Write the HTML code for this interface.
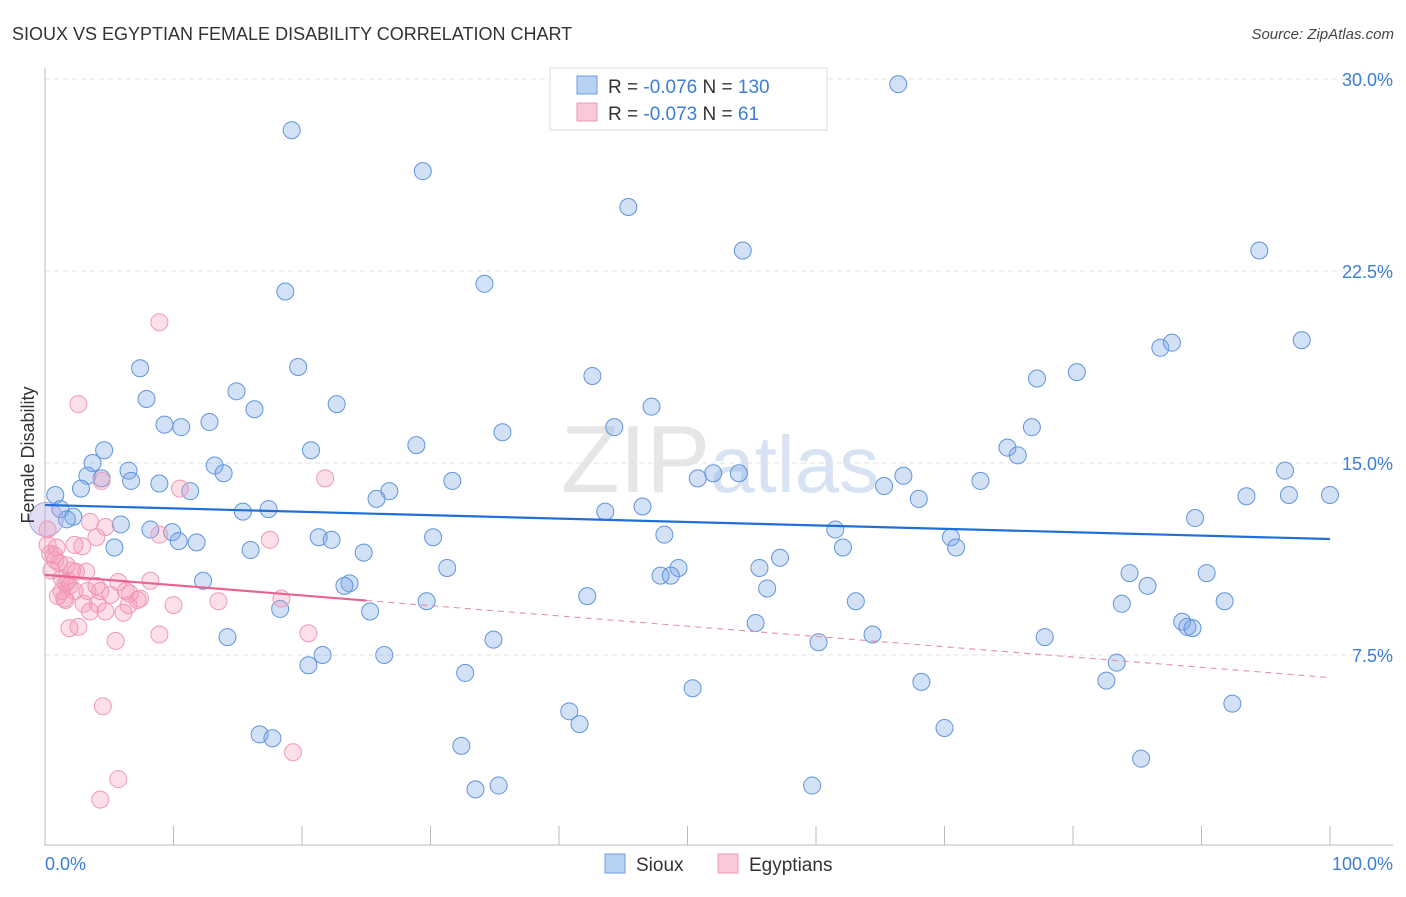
<!DOCTYPE html>
<html><head><meta charset="utf-8"><style>
body{margin:0;background:#fff;font-family:"Liberation Sans",sans-serif}
svg text{font-family:"Liberation Sans",sans-serif}
</style></head><body>
<svg id="chart" width="1406" height="892" xmlns="http://www.w3.org/2000/svg">
<text x="12" y="40" font-size="18" fill="#333">SIOUX VS EGYPTIAN FEMALE DISABILITY CORRELATION CHART</text>
<text x="1394" y="39" font-size="15" fill="#444" font-style="italic" text-anchor="end">Source: ZipAtlas.com</text>
<text x="720" y="492" font-size="96" fill="#e6e6e6" text-anchor="middle" font-family="Liberation Serif">ZIP<tspan fill="#d7e3f2" font-family="Liberation Sans" font-size="80">atlas</tspan></text>
<g id="grid"></g><g id="axes"></g><g id="pts"></g><g id="trend"></g>
<text transform="translate(34,455) rotate(-90)" font-size="18" fill="#333" text-anchor="middle">Female Disability</text>
<text x="45" y="870" font-size="18" fill="#3b7dd8">0.0%</text>
<text x="1393" y="870" font-size="18" fill="#3b7dd8" text-anchor="end">100.0%</text>
<g>
<rect x="550" y="68" width="277" height="62" fill="#fff" stroke="#ddd"/>
<rect x="577" y="76" width="20" height="18" fill="#b8d2f4" stroke="#6d9ee0"/>
<rect x="577" y="103" width="20" height="18" fill="#f9c9d7" stroke="#ec9ab4"/>
<text x="608" y="93" font-size="19" fill="#333">R = <tspan fill="#3b7dd8">-0.076</tspan>   N = <tspan fill="#3b7dd8">130</tspan></text>
<text x="608" y="120" font-size="19" fill="#333">R = <tspan fill="#3b7dd8">-0.073</tspan>   N =   <tspan fill="#3b7dd8">61</tspan></text>
</g>
<g><rect x="605" y="854" width="20" height="19" fill="#b8d2f4" stroke="#6d9ee0"/><text x="636" y="871" font-size="19" fill="#333">Sioux</text></g>
<g><rect x="718" y="854" width="20" height="19" fill="#f9c9d7" stroke="#ec9ab4"/><text x="749" y="871" font-size="19" fill="#333">Egyptians</text></g>
</svg>
<script>
const yTicks=[7.5,15,22.5,30];
const xTicks=[10,20,30,40,50,60,70,80,90,100];
const siouxX=[66.4,19.2,29.4,45.4,54.3,94.5,34.2,18.7,97.8,86.8,87.7,19.7,7.4,42.6,80.3,77.2,14.9,7.9,22.7,16.3,47.2,9.3,10.6,12.8,44.3,35.6,76.8,28.9,20.7,74.9,75.7,4.6,3.7,13.2,6.5,13.9,3.3,52.0,54.0,50.8,31.7,66.8,72.8,96.5,4.4,8.9,6.7,2.8,11.3,65.3,0.8,26.8,25.8,68.0,96.8,100,93.5,1.2,2.2,1.7,15.4,17.4,43.6,46.5,89.5,5.9,8.2,9.9,10.4,11.8,61.5,48.2,70.5,70.9,21.3,22.3,30.2,62.1,5.4,16.0,24.8,57.2,31.3,49.3,55.6,84.4,90.4,47.9,48.7,23.7,12.3,23.3,85.8,56.2,42.2,29.7,63.1,83.8,91.8,25.3,18.3,88.5,88.9,89.3,55.3,14.2,34.9,77.8,64.4,60.2,21.6,26.4,20.5,83.4,32.7,82.6,68.2,50.4,92.4,40.8,41.6,70.0,16.7,17.7,32.4,85.3,33.5,35.3,59.7];
const siouxY=[29.8,28.0,26.4,25.0,23.3,23.3,22.0,21.7,19.8,19.5,19.7,18.75,18.7,18.4,18.55,18.3,17.8,17.5,17.3,17.1,17.2,16.5,16.4,16.6,16.4,16.2,16.4,15.7,15.5,15.6,15.3,15.5,15.0,14.9,14.7,14.6,14.5,14.6,14.6,14.4,14.3,14.5,14.3,14.7,14.4,14.2,14.3,14.0,13.9,14.1,13.75,13.9,13.6,13.6,13.75,13.75,13.7,13.2,12.9,12.8,13.1,13.2,13.1,13.3,12.85,12.6,12.4,12.3,11.95,11.9,12.4,12.2,12.1,11.7,12.1,12.0,12.1,11.7,11.7,11.6,11.5,11.3,10.9,10.9,10.9,10.7,10.7,10.6,10.6,10.3,10.4,10.2,10.2,10.1,9.8,9.6,9.6,9.5,9.6,9.2,9.3,8.8,8.6,8.55,8.75,8.2,8.1,8.2,8.3,8.0,7.5,7.5,7.1,7.2,6.8,6.5,6.45,6.2,5.6,5.3,4.8,4.65,4.4,4.25,3.95,3.45,2.25,2.4,2.4];
const egyX=[8.9,2.6,4.4,21.8,10.5,3.5,4.7,4.0,8.9,17.5,0.2,2.9,0.7,1.1,1.7,2.1,0.5,2.4,3.2,1.3,1.8,4.0,5.7,8.2,1.3,1.9,4.3,6.3,1.0,1.5,3.0,4.1,7.2,6.5,10.0,13.5,18.4,3.5,4.7,6.1,1.9,2.6,8.9,20.5,5.5,4.5,19.3,5.7,4.3,0.4,0.8,1.6,5.1,6.6,7.4,2.3,1.6,3.3,0.2,0.9,2.3];
const egyY=[20.5,17.3,14.3,14.4,14.0,12.7,12.5,12.1,12.2,12.0,11.8,11.75,11.4,11.1,11.0,10.8,10.8,10.75,10.75,10.5,10.4,10.2,10.35,10.4,10.0,10.2,10.0,10.0,9.8,9.7,9.5,9.5,9.65,9.45,9.45,9.6,9.7,9.2,9.2,9.15,8.55,8.6,8.3,8.35,8.05,5.5,3.7,2.65,1.85,11.45,11.2,9.65,9.85,9.9,9.7,11.8,10.3,10.0,12.4,11.7,10.0];
const siouxTrend=[13.36,12.03];
const egyTrend=[10.63,6.62];
const egySolidEnd=25;
const NS="http://www.w3.org/2000/svg";
const X=v=>45+v*12.85, Y=v=>847-v*25.6;
function mk(p,t,a){const e=document.createElementNS(NS,t);for(const k in a)e.setAttribute(k,a[k]);document.getElementById(p).appendChild(e);return e;}
yTicks.forEach(t=>{
 const l=mk('grid','line',{x1:45,x2:1393,y1:Y(t),y2:Y(t),stroke:'#e2e2e2','stroke-dasharray':'5,4'});
 
 
 const tx=mk('grid','text',{x:1393,y:Y(t)+7,'font-size':18,fill:'#3b7dd8','text-anchor':'end'});
 tx.textContent=t.toFixed(1)+'%';
 
 
});
const ya=mk('axes','line',{x1:45,x2:45,y1:68,y2:846,stroke:'#bbb'});


const xa=mk('axes','line',{x1:45,x2:1393,y1:845,y2:845,stroke:'#bbb'});


xTicks.forEach(t=>{
 const l=mk('axes','line',{x1:X(t),x2:X(t),y1:826,y2:845,stroke:'#bbb'});
 
 
});
siouxX.forEach((v,i)=>{
 const c=mk('pts','circle',{cx:X(v),cy:Y(siouxY[i]),r:8.5,fill:'rgba(120,165,230,0.33)',stroke:'#5f95dc','stroke-width':1});
 
 
});
const big=mk('pts','circle',{cx:X(0.1),cy:Y(12.8),r:17,fill:'rgba(170,160,220,0.35)',stroke:'#a7a8dc'});


egyX.forEach((v,i)=>{
 const c=mk('pts','circle',{cx:X(v),cy:Y(egyY[i]),r:8.5,fill:'rgba(245,150,180,0.3)',stroke:'#ef9ab6','stroke-width':1});
 
 
});
const bt=mk('trend','line',{x1:X(0),y1:Y(siouxTrend[0]),x2:X(100),y2:Y(siouxTrend[1]),stroke:'#1f6fd6','stroke-width':2.2});


const ey=x=>egyTrend[0]+(egyTrend[1]-egyTrend[0])*x/100;
const ps=mk('trend','line',{x1:X(0),y1:Y(ey(0)),x2:X(egySolidEnd),y2:Y(ey(egySolidEnd)),stroke:'#e8648f','stroke-width':2.2});


const pd=mk('trend','line',{x1:X(egySolidEnd),y1:Y(ey(egySolidEnd)),x2:X(100),y2:Y(ey(100)),stroke:'#e8849f','stroke-width':1,'stroke-dasharray':'6,5'});


</script>
</body></html>
